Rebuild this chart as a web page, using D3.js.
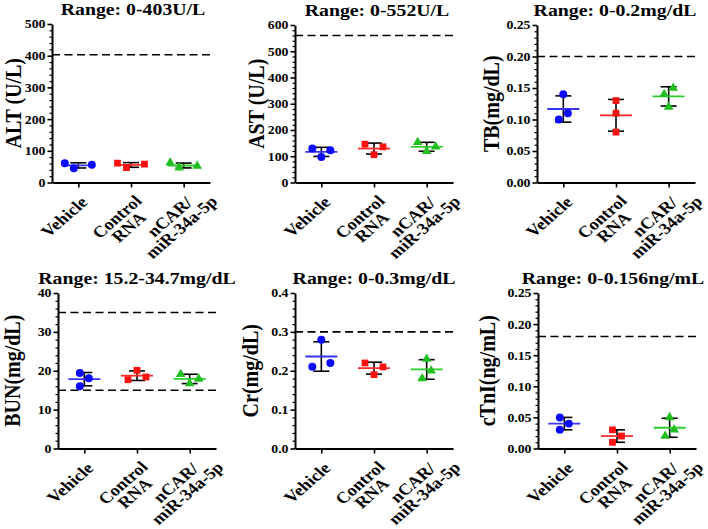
<!DOCTYPE html>
<html>
<head>
<meta charset="utf-8">
<title>Serum biochemistry</title>
<style>
  body { margin: 0; background: #fff; }
  svg { display: block; background: #fff; }
</style>
</head>
<body>
<svg id="chart" width="708" height="529"></svg>
<script src="https://cdn.jsdelivr.net/npm/d3@7"></script>
<script>
// x categories, one entry per printed line of the label
var groups = [["Vehicle"], ["Control", "RNA"], ["nCAR/", "miR-34a-5p"]];
var groupColors = ["#0a0aff", "#ff1010", "#1fbf1f"];
var lineColors = ["#3535f5", "#ff2a2a", "#2ccc2c"];
var groupShapes = [d3.symbolCircle, d3.symbolSquare, d3.symbolTriangle];

var titles = ["Range: 0-403U/L", "Range: 0-552U/L", "Range: 0-0.2mg/dL",
              "Range: 15.2-34.7mg/dL", "Range: 0-0.3mg/dL", "Range: 0-0.156ng/mL"];
var yLabels = ["ALT (U/L)", "AST (U/L)", "TB(mg/dL)", "BUN(mg/dL)", "Cr(mg/dL)", "cTnI(ng/mL)"];
var yMax = [500, 600, 0.25, 40, 0.4, 0.25];
var yStep = [100, 100, 0.05, 10, 0.1, 0.05];
var yFormat = [".0f", ".0f", ".2f", ".0f", ".1f", ".2f"];
var refLines = [[403], [560], [0.2], [15, 35], [0.3], [0.18]];

// three animals per group: Vehicle, Control RNA, nCAR/miR-34a-5p
var alt  = [[61, 45, 56], [61, 47, 58], [62, 47, 52]];
var ast  = [[130, 97, 123], [146, 106, 136], [153, 119, 136]];
var tb   = [[0.10, 0.14, 0.11], [0.13, 0.11, 0.08], [0.15, 0.14, 0.12]];
var bun  = [[16.0, 19.4, 18.1], [20.1, 17.7, 18.4], [19.1, 17.9, 16.7]];
var cr   = [[0.21, 0.28, 0.22], [0.22, 0.21, 0.19], [0.23, 0.20, 0.18]];
var ctni = [[0.03, 0.05, 0.04], [0.03, 0.02, 0.01], [0.05, 0.03, 0.02]];
var panelValues = [alt, ast, tb, bun, cr, ctni];

// panel placement (left edge of axis, top and bottom of y range, title offsets)
var layout = [
  {x: 52,  top: 24,  bottom: 182.5, labelX: -39, titleX: 81},
  {x: 295, top: 25,  bottom: 182.5, labelX: -39, titleX: 82},
  {x: 537, top: 25,  bottom: 182.5, labelX: -46, titleX: 78},
  {x: 58,  top: 293, bottom: 448.5, labelX: -46, titleX: 79},
  {x: 295, top: 293, bottom: 448.5, labelX: -45, titleX: 79},
  {x: 538, top: 293, bottom: 448.5, labelX: -51, titleX: 75}
];
var axisLen = 158;
var stretch = 1.2;   // the figure text is set a little wide
var spread = 9, minDist = 10;
var font = '"Liberation Serif", "Times New Roman", serif';

var svg = d3.select('#chart');

for (var i = 0; i < 6; i++) drawPanel(i);

// beeswarm-ish horizontal offsets so touching points sit side by side
function swarm(vals, y) {
  var pts = vals.slice().sort(d3.ascending).map(function (v) { return {v: v, py: y(v), dx: 0}; });
  var placed = [];
  pts.forEach(function (pt) {
    var cands = [0, spread, -spread, 2 * spread, -2 * spread];
    for (var c = 0; c < cands.length; c++) {
      var ok = placed.every(function (q) { return Math.hypot(q.dx - cands[c], q.py - pt.py) >= minDist; });
      if (ok) { pt.dx = cands[c]; break; }
    }
    placed.push(pt);
  });
  //centre each cluster of touching points
  var cluster = [pts[0]];
  function flush() {
    var ext = d3.extent(cluster, function (q) { return q.dx; });
    var shift = -(ext[0] + ext[1]) / 2;
    cluster.forEach(function (q) { q.dx += shift; });
  }
  for (var k = 1; k < pts.length; k++) {
    if (Math.abs(pts[k].py - pts[k - 1].py) < minDist) cluster.push(pts[k]);
    else { flush(); cluster = [pts[k]]; }
  }
  flush();
  return pts;
}

function drawPanel(i) {
  var p = layout[i];
  var g = svg.append('g');

  var x = d3.scalePoint().domain(d3.range(groups.length)).range([p.x, p.x + axisLen]).padding(0.5);
  var y = d3.scaleLinear().domain([0, yMax[i]]).range([p.bottom, p.top]);

  var nMajor = Math.round(yMax[i] / yStep[i]);
  var major = d3.range(nMajor + 1).map(function (k) { return k * yStep[i]; });
  var minor = d3.range(nMajor * 5 + 1).filter(function (k) { return k % 5; })
    .map(function (k) { return k * yStep[i] / 5; });

  //reference range lines
  g.selectAll('.ref').data(refLines[i]).enter().append('line')
    .attr('x1', p.x).attr('x2', p.x + axisLen + 2)
    .attr('y1', function (d) { return y(d); }).attr('y2', function (d) { return y(d); })
    .attr('stroke', '#000').attr('stroke-width', 1.6)
    .attr('stroke-dasharray', '8,4.5');

  //minor y ticks
  g.append('g').attr('transform', 'translate(' + p.x + ',0)')
    .call(d3.axisLeft(y).tickValues(minor).tickSize(2.5).tickSizeOuter(0).tickFormat(''))
    .call(function (a) { a.select('.domain').remove(); })
    .selectAll('line').attr('stroke-width', 1.2);

  //major y axis
  var ya = g.append('g').attr('transform', 'translate(' + p.x + ',0)')
    .call(d3.axisLeft(y).tickValues(major).tickSize(4.5).tickSizeOuter(0)
      .tickFormat(d3.format(yFormat[i])));
  ya.select('.domain').attr('stroke-width', 2);
  ya.selectAll('.tick line').attr('stroke-width', 1.6);
  ya.selectAll('.tick text')
    .attr('font-family', font).attr('font-weight', 'bold').attr('font-size', 11.5)
    .attr('x', -6.5 / stretch).attr('dy', '0.34em')
    .attr('transform', 'scale(' + stretch + ',1)');

  //x axis
  var xa = g.append('g').attr('transform', 'translate(0,' + p.bottom + ')')
    .call(d3.axisBottom(x).tickSize(5).tickSizeOuter(0).tickFormat(''));
  xa.select('.domain').attr('stroke-width', 2);
  xa.selectAll('.tick line').attr('stroke-width', 1.6);

  //rotated category labels, lines centred on each other
  groups.forEach(function (lines, k) {
    lines.forEach(function (line, j) {
      g.append('text')
        .attr('transform', 'translate(' + x(k) + ',' + p.bottom + ') scale(1.15,1) rotate(-45)')
        .attr('text-anchor', 'middle')
        .attr('font-family', font).attr('font-weight', 'bold').attr('font-size', 16)
        .attr('x', -33).attr('y', 21 + j * 14.5)
        .text(line);
    });
  });

  //title
  g.append('text')
    .attr('transform', 'translate(' + (p.x + p.titleX) + ',' + (p.top - 9) + ') scale(' + stretch + ',1)')
    .attr('text-anchor', 'middle')
    .attr('font-family', font).attr('font-weight', 'bold').attr('font-size', 16.5)
    .text(titles[i]);

  //y title
  g.append('text')
    .attr('transform', 'translate(' + (p.x + p.labelX) + ',' + ((p.top + p.bottom) / 2) + ') scale(' + stretch + ',1) rotate(-90)')
    .attr('text-anchor', 'middle').attr('dy', '0.35em')
    .attr('font-family', font).attr('font-weight', 'bold').attr('font-size', 20)
    .text(yLabels[i]);

  //groups: SD error bar, mean line, points
  panelValues[i].forEach(function (vals, k) {
    var cx = x(k);
    var m = d3.mean(vals), sd = d3.deviation(vals);
    var eb = g.append('g').attr('stroke', '#000').attr('stroke-width', 1.6).attr('fill', 'none');
    eb.append('line').attr('x1', cx).attr('x2', cx).attr('y1', y(m - sd)).attr('y2', y(m + sd));
    [m - sd, m + sd].forEach(function (v) {
      eb.append('line').attr('x1', cx - 8).attr('x2', cx + 8).attr('y1', y(v)).attr('y2', y(v));
    });
    g.append('line').attr('x1', cx - 16).attr('x2', cx + 16).attr('y1', y(m)).attr('y2', y(m))
      .attr('stroke', lineColors[k]).attr('stroke-width', 1.8);

    var sym = d3.symbol().type(groupShapes[k]).size(k === 2 ? 40 : k === 1 ? 46 : 50);
    g.selectAll('.pt' + k).data(swarm(vals, y)).enter().append('path')
      .attr('transform', function (d) { return 'translate(' + (cx + d.dx) + ',' + d.py + ')'; })
      .attr('d', sym)
      .attr('fill', groupColors[k]);
  });
}
</script>
</body>
</html>
